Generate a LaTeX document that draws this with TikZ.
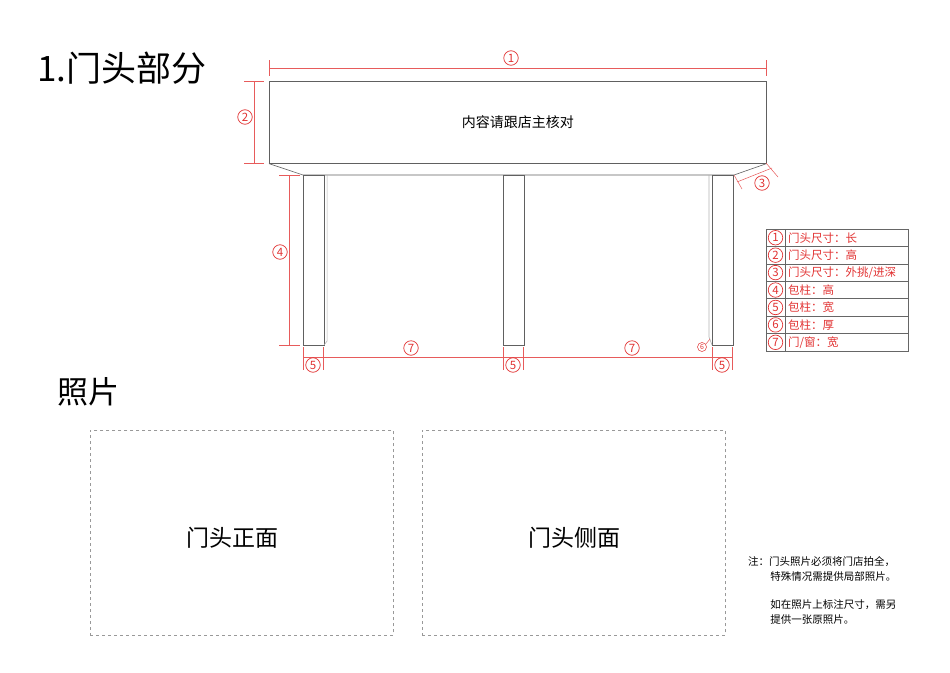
\documentclass[tikz,border=0pt]{standalone}
\usepackage{fontspec}
\setmainfont{Noto Sans CJK SC}
\begin{document}
\begin{tikzpicture}[x=1pt,y=-1pt,
  dim/.style={draw=dimred!80,line width=0.5pt},
  lbl/.style={text=dimred,draw=dimred,circle,line width=0.7pt,minimum size=14.5pt,inner sep=0pt,font=\fontsize{11.5}{11.5}\selectfont},
  obj/.style={draw=gray!75!black,line width=0.6pt},
  photo/.style={draw=gray!80,dashed,line width=0.6pt},
  leg/.style={text=dimred,font=\fontsize{11.5}{11.5}\selectfont,anchor=west,inner sep=0pt}]
\definecolor{dimred}{RGB}{225,50,50}
\useasboundingbox (0,0) rectangle (950,672);
\node[anchor=west,font=\fontsize{35}{35}\selectfont] (title) at (34,68) {1.门头部分};
% sign box
\node[obj,minimum width=497pt,minimum height=82pt,inner sep=0pt,anchor=north west,
  font=\fontsize{14}{14}\selectfont] (sign) at (269,81) {内容请跟店主核对};
\draw[obj] (sign.south west) -- (303,175) -- (734,175) -- (sign.south east);
% pillars
\foreach \n/\x in {pl/303,pm/503,pr/712}{
  \node[obj,minimum width=20.5pt,minimum height=170pt,inner sep=0pt,anchor=north west] (\n) at (\x,175) {};}
\draw[obj,gray!60] (pl.north east)++(3,0) -- ++(0,166) -- ++(-3,4);
\draw[obj,gray!60] (pr.north west)++(-3,0) -- ++(0,162) -- ++(3,8);
% dimension 1
\draw[dim] (269,68) -- (766,68);
\draw[dim] (269,60) -- (269,76) (766,60) -- (766,76);
\node[lbl] (d1) at (511,58) {1};
% dimension 2
\draw[dim] (254,81) -- (254,163);
\draw[dim] (244,81) -- (264,81) (244,163) -- (264,163);
\node[lbl] (d2) at (245,117) {2};
% dimension 3
\draw[dim] (737,182) -- (772,168);
\draw[dim] (734,175) -- (742,189) (766,163) -- (778,177);
\node[lbl] (d3) at (762,183) {3};
% dimension 4
\draw[dim] (289,175) -- (289,345);
\draw[dim] (279,175) -- (300,175) (279,345) -- (300,345);
\node[lbl] (d4) at (280,252) {4};
% bottom dims
\draw[dim] (303,357) -- (733,357);
\foreach \x in {303,323.5,503,523.5,712,732.5}{\draw[dim] (\x,347) -- (\x,370);}
\node[lbl] (d5a) at (313,365) {5};
\node[lbl] (d5b) at (513,365) {5};
\node[lbl] (d5c) at (722,365) {5};
\node[lbl] (d7a) at (411,348) {7};
\node[lbl] (d7b) at (632,348) {7};
\node[lbl,minimum size=9pt,line width=0.5pt,font=\fontsize{7}{7}\selectfont] (d6) at (702,347) {6};
\draw[dim] (706,344) -- (710,339);
% legend table
\draw[gray!80!black,line width=0.5pt] (766,229) rectangle (908,351);
\draw[gray!80!black,line width=0.5pt] (785,229) -- (785,351);
\foreach \i in {1,...,6}{\draw[gray!80!black,line width=0.5pt] (766,229+\i*17.43) -- (908,229+\i*17.43);}
\foreach \i/\t in {1/{门头尺寸：长},2/{门头尺寸：高},3/{门头尺寸：外挑/进深},4/{包柱：高},5/{包柱：宽},6/{包柱：厚},7/{门/窗：宽}}{
  \node[lbl] (ls\i) at (775.5,229+\i*17.43-8.7) {\i};
  \node[leg] (lt\i) at (788,229+\i*17.43-8.7) {\t};}
% photos
\node[anchor=west,font=\fontsize{31}{31}\selectfont] (ph) at (54,392) {照片};
\node[photo,minimum width=303pt,minimum height=205pt,anchor=north west] (pf) at (90,430) {};
\node[font=\fontsize{23}{23}\selectfont] (pft) at (232,538) {门头正面};
\node[photo,minimum width=303pt,minimum height=205pt,anchor=north west] (ps) at (422,430) {};
\node[font=\fontsize{23}{23}\selectfont] (pst) at (574,538) {门头侧面};
\node[anchor=north west,align=left,font=\fontsize{10.5}{15}\selectfont,inner sep=0pt] (note) at (748,556)
 {注：门头照片必须将门店拍全，\\\hspace{2.1em}特殊情况需提供局部照片。\\[13pt]\hspace{2.1em}如在照片上标注尺寸，需另\\\hspace{2.1em}提供一张原照片。};
\end{tikzpicture}
\end{document}
